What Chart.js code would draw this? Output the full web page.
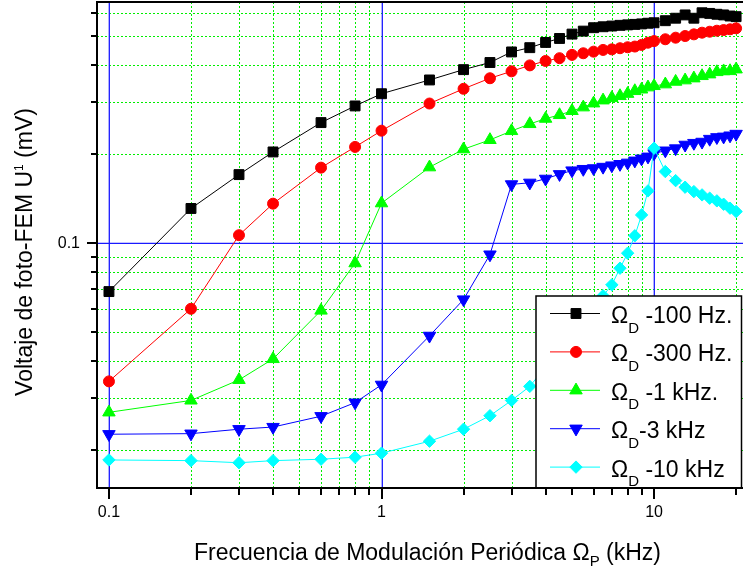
<!DOCTYPE html>
<html>
<head>
<meta charset="utf-8">
<script src="https://cdn.jsdelivr.net/npm/chart.js@4.4.0/dist/chart.umd.min.js"></script>
<style>
  html, body { margin: 0; padding: 0; background: #fff; overflow: hidden; }
</style>
</head>
<body>
<canvas id="myChart" width="743" height="569"></canvas>
<script>
// frecuencia de modulación periódica (kHz)
const freq = [0.1, 0.2, 0.3, 0.4, 0.6, 0.8, 1, 1.5, 2, 2.5, 3, 3.5, 4, 4.5, 5, 5.5, 6, 6.5, 7, 7.5,
  8, 8.5, 9, 9.5, 10, 11, 12, 13, 14, 15, 16, 17, 18, 19, 20];

// voltaje de foto-FEM (mV) para cada Ω_D
const u100Hz = [0.0686, 0.131, 0.1705, 0.2034, 0.2556, 0.291, 0.320, 0.3562, 0.386, 0.408, 0.443, 0.458,
  0.477, 0.492, 0.509, 0.521, 0.535, 0.539, 0.542, 0.545, 0.547, 0.549, 0.551, 0.554, 0.556, 0.565, 0.576,
  0.591, 0.576, 0.601, 0.598, 0.594, 0.591, 0.586, 0.583];
const u300Hz = [0.0341, 0.060, 0.1064, 0.136, 0.180, 0.2115, 0.240, 0.2965, 0.3325, 0.361, 0.381, 0.399,
  0.413, 0.422, 0.433, 0.4385, 0.444, 0.450, 0.452, 0.456, 0.4595, 0.462, 0.468, 0.476, 0.482, 0.489, 0.495,
  0.5015, 0.508, 0.5146, 0.5186, 0.5226, 0.5253, 0.5284, 0.5325];
const u1kHz = [0.0268, 0.0294, 0.0345, 0.0406, 0.0592, 0.0856, 0.1365, 0.1806, 0.2078, 0.2234, 0.2395, 0.2529,
  0.2636, 0.2713, 0.280, 0.288, 0.297, 0.304, 0.310, 0.3145, 0.320, 0.327, 0.331, 0.3365, 0.340, 0.3445, 0.3516,
  0.3554, 0.3609, 0.3675, 0.3723, 0.379, 0.3815, 0.382, 0.387];
const u3kHz = [0.0226, 0.0227, 0.0235, 0.0239, 0.0260, 0.0289, 0.0332, 0.0486, 0.0645, 0.0915, 0.158, 0.160,
  0.165, 0.171, 0.176, 0.178, 0.179, 0.181, 0.183, 0.185, 0.187, 0.190, 0.193, 0.196, 0.201, 0.2055, 0.209,
  0.215, 0.218, 0.220, 0.225, 0.228, 0.229, 0.231, 0.234];
// 4 - 6 kHz quedan tapados por la leyenda
const u10kHz = [0.0185, 0.0184, 0.0181, 0.0184, 0.0186, 0.0189, 0.0195, 0.0214, 0.0235, 0.0261, 0.0294, 0.0328,
  null, null, null, null, null, 0.0664, 0.0723, 0.0823, 0.0925, 0.1059, 0.1246, 0.1502, 0.2094, 0.1746, 0.1627,
  0.1546, 0.1494, 0.1456, 0.1419, 0.139, 0.1354, 0.1313, 0.1279];

const legendSuffix = [' -100 Hz.', ' -300 Hz.', ' -1 kHz.', '-3 kHz', ' -10 kHz'];

// marcas de los ejes
const xTicks = [0.1, 0.2, 0.3, 0.4, 0.5, 0.6, 0.7, 0.8, 0.9, 1, 2, 3, 4, 5, 6, 7, 8, 9, 10, 20];
const yTicks = [0.02, 0.03, 0.04, 0.05, 0.06, 0.07, 0.08, 0.09, 0.1, 0.2, 0.3, 0.4, 0.5, 0.6];
const xLabels = [0.1, 1, 10];
const yLabels = [0.1];

const FONT = '"Liberation Sans", Arial, sans-serif';
const BLUE = '#1a1aff';
const GREEN = '#00ee00';

function isMajor(v) {
  return [0.01, 0.1, 1, 10].includes(v);
}

function pts(vals) {
  return freq.map((f, i) => ({ x: f, y: vals[i] }));
}

const styles = [
  { data: u100Hz, color: '#000000', pointStyle: 'rect', radius: 7, rotation: 0 },
  { data: u300Hz, color: '#ff0000', pointStyle: 'circle', radius: 5.5, rotation: 0 },
  { data: u1kHz, color: '#00ff00', pointStyle: 'triangle', radius: 7.2, rotation: 0 },
  { data: u3kHz, color: '#0000ff', pointStyle: 'triangle', radius: 7.2, rotation: 180 },
  { data: u10kHz, color: '#00ffff', pointStyle: 'rectRot', radius: 6.2, rotation: 0 }
];

const datasets = styles.map((s, i) => ({
  label: 'ΩD' + legendSuffix[i],
  data: pts(s.data),
  borderColor: s.color,
  backgroundColor: s.color,
  borderWidth: 1,
  pointStyle: s.pointStyle,
  pointRadius: s.radius,
  pointRotation: s.rotation,
  pointBackgroundColor: s.color,
  pointBorderColor: s.color,
  pointBorderWidth: 1,
  spanGaps: true,
  order: styles.length - i   // el último se dibuja encima
}));

// texto con subíndices / superíndices
function drawRich(ctx, parts, x, y, size, align) {
  const fontOf = p => (p.k === 'n' ? size : p.size) + 'px ' + FONT;
  let total = 0;
  parts.forEach(p => { ctx.font = fontOf(p); total += ctx.measureText(p.t).width; });
  let cx = align === 'center' ? x - total / 2 : x;
  ctx.textAlign = 'left';
  ctx.textBaseline = 'alphabetic';
  ctx.fillStyle = '#000';
  parts.forEach(p => {
    ctx.font = fontOf(p);
    ctx.fillText(p.t, cx, y + (p.dy || 0));
    cx += ctx.measureText(p.t).width;
  });
}

const decor = {
  id: 'decor',
  beforeDatasetsDraw(chart) {
    // rejilla: menores en verde punteado, mayores en azul
    const ctx = chart.ctx;
    const a = chart.chartArea;
    const xs = chart.scales.x, ys = chart.scales.y;
    const gridLines = (major, off) => {
      ctx.beginPath();
      xTicks.filter(v => isMajor(v) === major).forEach(v => {
        const px = Math.round(xs.getPixelForValue(v)) + off;
        ctx.moveTo(px, a.top);
        ctx.lineTo(px, a.bottom);
      });
      yTicks.filter(v => isMajor(v) === major).forEach(v => {
        const py = Math.round(ys.getPixelForValue(v)) + off;
        ctx.moveTo(a.left, py);
        ctx.lineTo(a.right, py);
      });
      ctx.stroke();
    };
    ctx.save();
    ctx.lineWidth = 1;
    ctx.strokeStyle = GREEN;
    ctx.setLineDash([2, 2]);
    gridLines(false, 0.5);
    ctx.setLineDash([]);
    ctx.strokeStyle = BLUE;
    ctx.lineWidth = 1.3;
    gridLines(true, 0.3);
    ctx.restore();
  },
  afterDatasetsDraw(chart) {
    const ctx = chart.ctx;
    const a = chart.chartArea;
    ctx.save();

    // leyenda
    const lx = 536, ly = 296, lw = a.right - 1.5 - lx, lh = a.bottom - ly;
    ctx.fillStyle = '#fff';
    ctx.fillRect(lx, ly, lw, lh);
    ctx.strokeStyle = '#000';
    ctx.lineWidth = 1.5;
    ctx.strokeRect(lx, ly, lw, lh);
    styles.forEach((s, i) => {
      const y = 313.5 + i * 38.4;
      ctx.strokeStyle = s.color;
      ctx.lineWidth = 1;
      ctx.beginPath();
      ctx.moveTo(550, y);
      ctx.lineTo(600, y);
      ctx.stroke();
      ctx.fillStyle = s.color;
      Chart.helpers.drawPoint(ctx, { pointStyle: s.pointStyle, radius: s.radius, rotation: s.rotation, borderWidth: 1 }, 576, y);
      drawRich(ctx, [
        { t: 'Ω', k: 'n' },
        { t: 'D', k: 's', size: 15, dy: 9.5 },
        { t: legendSuffix[i], k: 'n' }
      ], 611, y + 9.5, 23, 'left');
    });

    // marco
    ctx.strokeStyle = '#000';
    ctx.lineWidth = 2;
    ctx.beginPath();
    ctx.moveTo(a.right, a.top);
    ctx.lineTo(a.left, a.top);
    ctx.lineTo(a.left, a.bottom);
    ctx.lineTo(a.right, a.bottom);
    ctx.stroke();
    ctx.restore();
  },
  afterDraw(chart) {
    const ctx = chart.ctx;
    const a = chart.chartArea;
    const xs = chart.scales.x, ys = chart.scales.y;
    ctx.save();
    ctx.strokeStyle = '#000';
    ctx.lineWidth = 2;
    ctx.beginPath();
    xTicks.forEach(v => {
      const px = Math.round(xs.getPixelForValue(v));
      ctx.moveTo(px, a.bottom);
      ctx.lineTo(px, a.bottom + (isMajor(v) ? 11 : 7));
    });
    yTicks.forEach(v => {
      const py = Math.round(ys.getPixelForValue(v));
      ctx.moveTo(a.left, py);
      ctx.lineTo(a.left - (isMajor(v) ? 10 : 6), py);
    });
    ctx.stroke();

    // títulos de los ejes
    drawRich(ctx, [
      { t: 'Frecuencia de Modulación Periódica Ω', k: 'n' },
      { t: 'P', k: 's', size: 15, dy: 6 },
      { t: ' (kHz)', k: 'n' }
    ], 427.5, 560, 23, 'center');

    ctx.translate(32, 252);
    ctx.rotate(-Math.PI / 2);
    drawRich(ctx, [
      { t: 'Voltaje de foto-FEM U', k: 'n' },
      { t: '1', k: 's', size: 12, dy: -9 },
      { t: ' (mV)', k: 'n' }
    ], 0, 0, 23, 'center');
    ctx.restore();
  }
};

// sin márgenes automáticos: el área del gráfico queda fija
function fixBox(s) {
  s.paddingLeft = 0;
  s.paddingRight = 0;
  s.paddingTop = 0;
  s.paddingBottom = 0;
}

const ctx = document.getElementById('myChart').getContext('2d');
const chart = new Chart(ctx, {
  type: 'line',
  data: { datasets: datasets },
  plugins: [decor],
  options: {
    responsive: false,
    animation: false,
    events: [],
    layout: { autoPadding: false, padding: { top: 2, right: 0, left: 0, bottom: 0 } },
    plugins: {
      legend: { display: false },
      tooltip: { enabled: false }
    },
    scales: {
      x: {
        type: 'logarithmic',
        min: 0.0904,
        max: 21.2,
        afterBuildTicks: s => { s.ticks = xTicks.map(v => ({ value: v })); },
        afterFit: s => { s.height = 81; fixBox(s); },
        ticks: {
          autoSkip: false,
          maxRotation: 0,
          padding: 15,
          color: '#000',
          font: { family: FONT, size: 16 },
          callback: v => xLabels.includes(v) ? String(v) : ''
        },
        grid: { display: false, drawTicks: false },
        border: { display: false }
      },
      y: {
        type: 'logarithmic',
        min: 0.01487,
        max: 0.6535,
        afterBuildTicks: s => { s.ticks = yTicks.map(v => ({ value: v })); },
        afterFit: s => { s.width = 97; fixBox(s); },
        ticks: {
          autoSkip: false,
          padding: 17,
          color: '#000',
          font: { family: FONT, size: 16 },
          callback: v => yLabels.includes(v) ? String(v) : ''
        },
        grid: { display: false, drawTicks: false },
        border: { display: false }
      }
    }
  }
});
</script>
</body>
</html>
